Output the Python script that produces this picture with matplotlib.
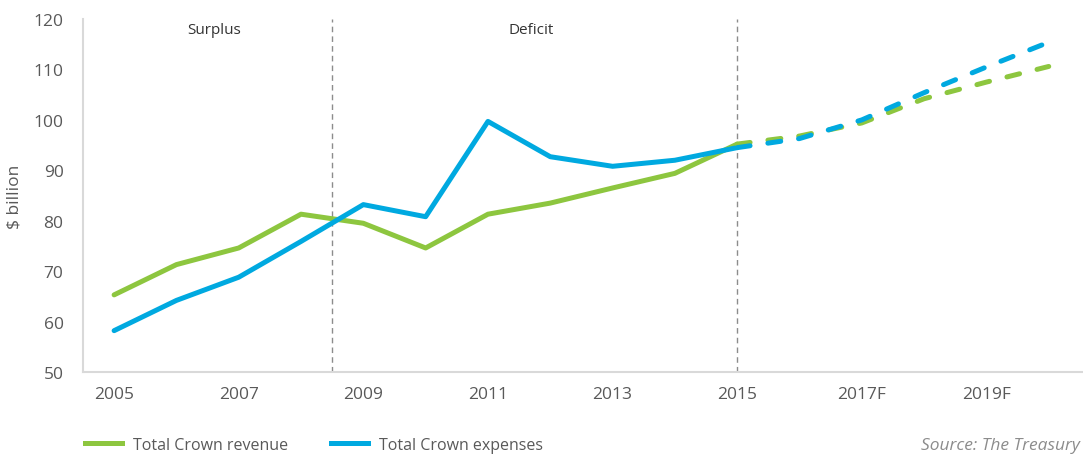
import matplotlib
matplotlib.use("Agg")
import matplotlib.pyplot as plt
from matplotlib.lines import Line2D

plt.rcParams['font.family'] = ['Open Sans', 'DejaVu Sans']

# actuals
years = [2005, 2006, 2007, 2008, 2009, 2010, 2011, 2012, 2013, 2014, 2015]
revenue = [65.3, 71.3, 74.6, 81.3, 79.5, 74.6, 81.3, 83.5, 86.5, 89.4, 95.2]
expenses = [58.2, 64.2, 68.8, 75.9, 83.2, 80.8, 99.7, 92.7, 90.8, 92.0, 94.5]

# forecasts
f_years = [2015, 2016, 2017, 2018, 2019, 2020]
f_revenue = [95.2, 96.8, 99.4, 104.2, 107.5, 110.6]
f_expenses = [94.5, 96.3, 100.0, 105.4, 110.5, 115.4]

tick_years = [2005, 2007, 2009, 2011, 2013, 2015, 2017, 2019]
tick_labels = ['2005', '2007', '2009', '2011', '2013', '2015', '2017F', '2019F']

GREEN = '#8DC63F'
BLUE = '#00A9E0'
GREY = '#595959'

fig = plt.figure(figsize=(10.83, 4.56), dpi=100)
ax = fig.add_axes([0.0766, 0.182, 0.9234, 0.774])

lw = 3.6
ax.plot(years, revenue, color=GREEN, lw=lw, solid_capstyle='round', zorder=3)
ax.plot(years, expenses, color=BLUE, lw=lw, solid_capstyle='round', zorder=3)
ax.plot(f_years, f_revenue, color=GREEN, lw=lw, ls=(0, (2.6, 3.6)),
        dash_capstyle='round', zorder=3)
ax.plot(f_years, f_expenses, color=BLUE, lw=lw, ls=(0, (2.6, 3.6)),
        dash_capstyle='round', zorder=3)

# surplus / deficit dividers
for xv in [2008.5, 2015]:
    ax.axvline(xv, color='#8c8c8c', lw=1, ls=(0, (4, 3)), zorder=1)
ax.text(2006.6, 118, 'Surplus', ha='center', va='center', fontsize=11, color='#333333')
ax.text(2011.7, 118, 'Deficit', ha='center', va='center', fontsize=11, color='#333333')

ax.set_xlim(2004.5, 2020.55)
ax.set_ylim(50, 120)
ax.set_yticks(range(50, 121, 10))
ax.set_xticks(tick_years)
ax.set_xticklabels(tick_labels)
ax.tick_params(length=0, labelsize=12.5, colors=GREY)
ax.tick_params(axis='y', pad=14)
ax.tick_params(axis='x', pad=10)
ax.set_ylabel('$ billion', fontsize=12.5, color=GREY, labelpad=8)

for s in ['top', 'right']:
    ax.spines[s].set_visible(False)
for s in ['left', 'bottom']:
    ax.spines[s].set_color('#d9d9d9')
    ax.spines[s].set_linewidth(1.5)

handles = [Line2D([], [], color=GREEN, lw=lw), Line2D([], [], color=BLUE, lw=lw)]
fig.legend(handles, ['Total Crown revenue', 'Total Crown expenses'],
           loc='center left', bbox_to_anchor=(0.065, 0.022), ncol=2, frameon=False,
           fontsize=11.5, handlelength=2.3, columnspacing=2.7, handletextpad=0.7,
           labelcolor=GREY)

fig.text(0.997, 0.022, 'Source: The Treasury', fontsize=12.5, style='italic',
         color='#8c8c8c', va='center', ha='right')

fig.savefig('out.png', dpi=100)
